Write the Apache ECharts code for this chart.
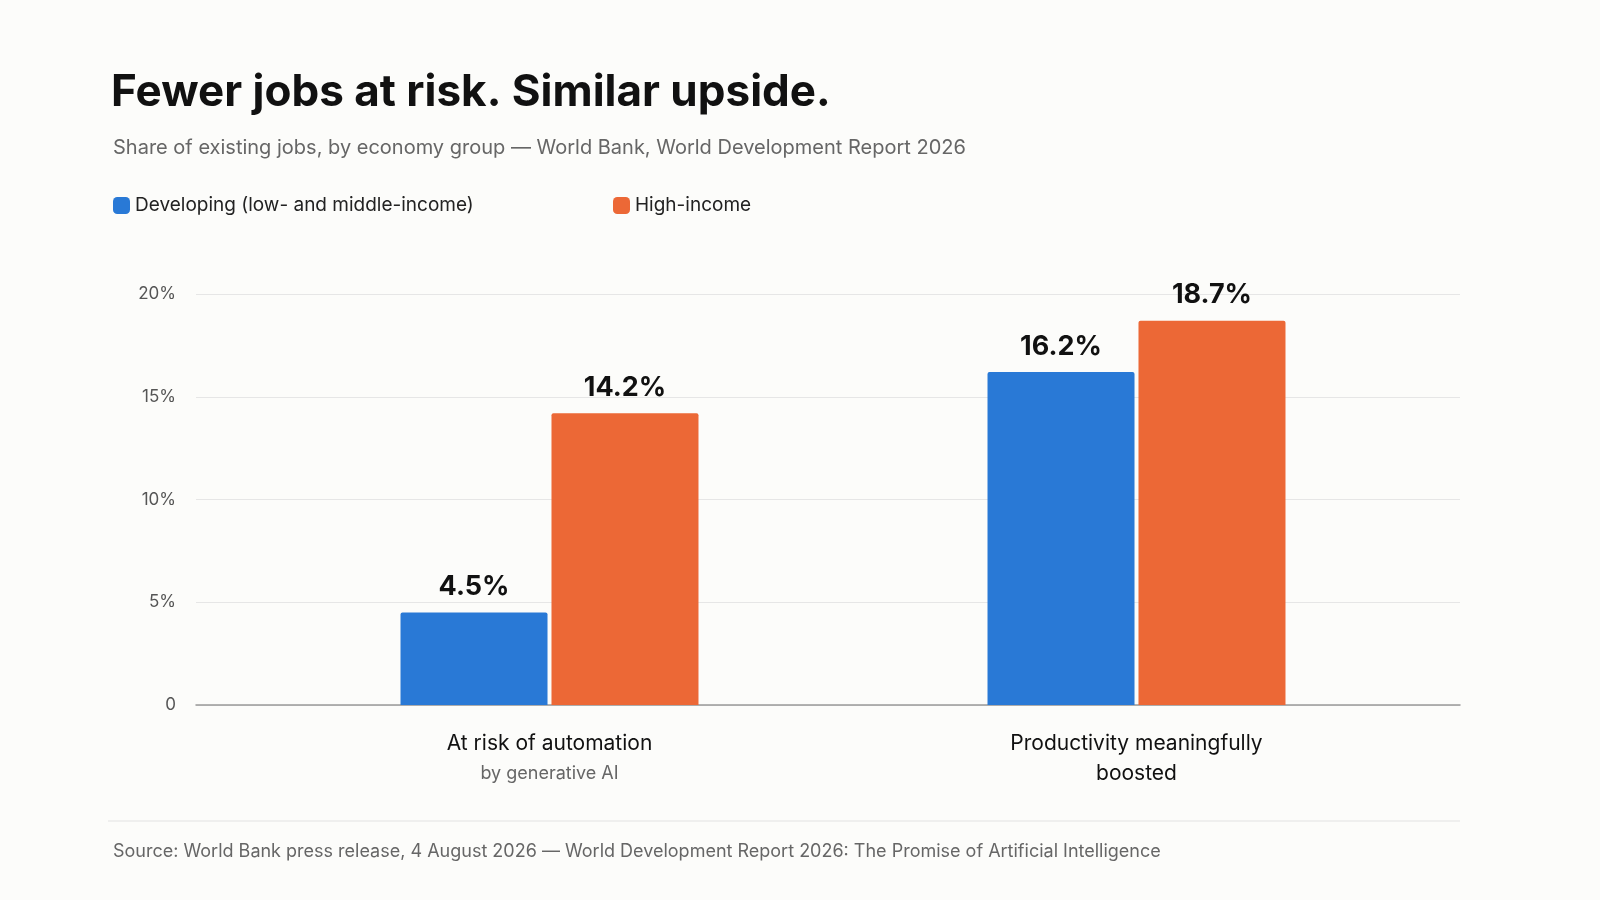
<!DOCTYPE html>
<html><head><meta charset="utf-8">
<script src="https://cdn.jsdelivr.net/npm/echarts@6/dist/echarts.min.js"></script>
<style>html,body{margin:0;background:#fcfcfa}#c{width:1600px;height:900px}</style>
</head><body><div id="c"></div>
<script>
const categories = ["At risk of automation\n{s|by generative AI}", "Productivity meaningfully\nboosted"];
const developing = [4.5, 16.2];
const highIncome = [14.2, 18.7];
const yTicks = [0, 5, 10, 15, 20];

const FONT = "Inter, 'Noto Sans', sans-serif";
const chart = echarts.init(document.getElementById("c"));
chart.setOption({
  backgroundColor: "#fcfcfa",
  textStyle: { fontFamily: FONT },
  title: [
    { text: "Fewer jobs at risk. Similar upside.", left: 106, top: 66,
      textStyle: { fontSize: 44, fontWeight: "bold", color: "#111", fontFamily: FONT } },
    { text: "Share of existing jobs, by economy group — World Bank, World Development Report 2026", left: 108, top: 133,
      textStyle: { fontSize: 20, fontWeight: "normal", color: "#666", fontFamily: FONT } },
    { text: "Source: World Bank press release, 4 August 2026 — World Development Report 2026: The Promise of Artificial Intelligence",
      left: 108, top: 838, textStyle: { fontSize: 18, fontWeight: "normal", color: "#666", fontFamily: FONT } }
  ],
  graphic: [{ type: "line", shape: { x1: 108, y1: 821, x2: 1460, y2: 821 }, style: { stroke: "#e2e2e2", lineWidth: 1 } }],
  legend: [
    { data: ["Developing (low- and middle-income)"], left: 108, top: 191, icon: "roundRect", itemWidth: 17, itemHeight: 17,
      textStyle: { fontSize: 19, color: "#222" } },
    { data: ["High-income"], left: 608, top: 191, icon: "roundRect", itemWidth: 17, itemHeight: 17,
      textStyle: { fontSize: 19, color: "#222" } }
  ],
  grid: [
    { left: 196, right: 140, top: 294, bottom: 195 },
    { left: 256, right: 170, top: 294, bottom: 195 }
  ],
  xAxis: [
    { gridIndex: 0, type: "value", min: 0, max: 1, show: true, axisLabel: { show: false }, axisTick: { show: false },
      splitLine: { show: false }, axisLine: { show: true, onZero: false, lineStyle: { color: "#999", width: 1.5 } } },
    { gridIndex: 1, type: "category", data: categories, axisLine: { show: false }, axisTick: { show: false },
      axisLabel: { margin: 24, fontSize: 21, color: "#111", lineHeight: 30,
        rich: { s: { fontSize: 18, color: "#666", lineHeight: 30 } } } }
  ],
  yAxis: [
    { gridIndex: 0, type: "value", min: 0, max: 20, interval: 5,
      axisLabel: { fontSize: 17, color: "#555", margin: 20, formatter: v => yTicks.includes(v) ? (v === 0 ? "0" : v + "%") : "" },
      axisLine: { show: false }, axisTick: { show: false }, splitLine: { lineStyle: { color: "#e6e6e6" } } },
    { gridIndex: 1, type: "value", min: 0, max: 20, show: false }
  ],
  series: [
    { name: "Developing (low- and middle-income)", type: "bar", xAxisIndex: 1, yAxisIndex: 1, data: developing,
      barWidth: 147, barGap: "2.7%", itemStyle: { color: "#2979d6", borderRadius: [2, 2, 0, 0] },
      label: { show: true, position: "top", distance: 12, formatter: p => p.value.toFixed(1) + "%", fontSize: 27, fontWeight: "bold", color: "#111" } },
    { name: "High-income", type: "bar", xAxisIndex: 1, yAxisIndex: 1, data: highIncome,
      barWidth: 147, itemStyle: { color: "#ec6836", borderRadius: [2, 2, 0, 0] },
      label: { show: true, position: "top", distance: 12, formatter: p => p.value.toFixed(1) + "%", fontSize: 27, fontWeight: "bold", color: "#111" } }
  ]
});
</script></body></html>
